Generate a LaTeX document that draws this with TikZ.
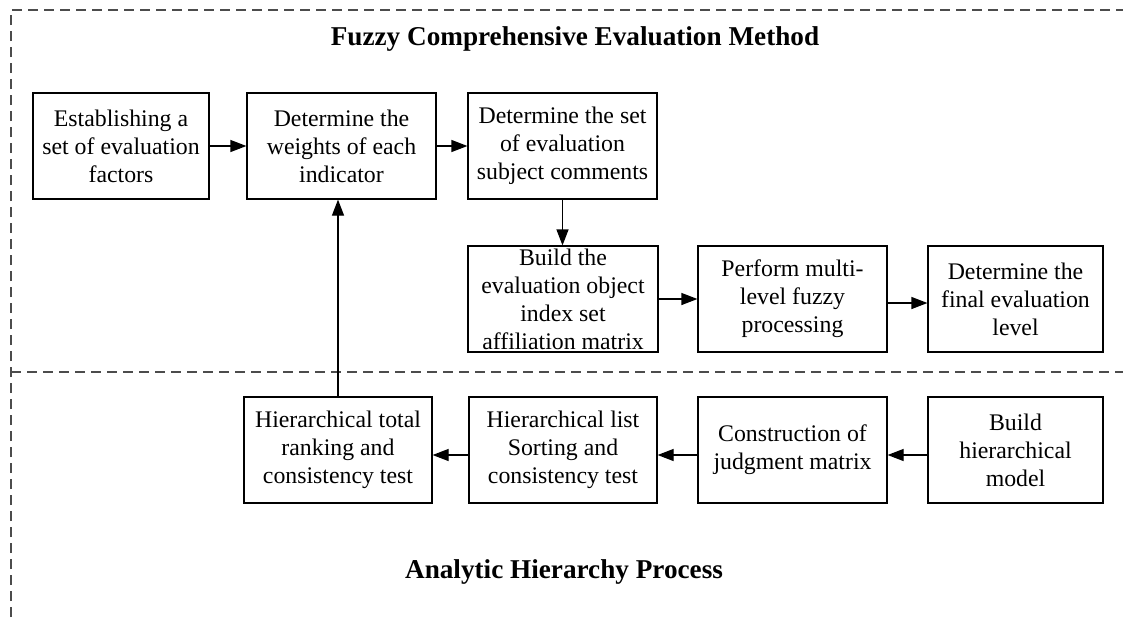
\documentclass[tikz,border=0pt]{standalone}
\usepackage{fontspec}
\setmainfont{Liberation Serif}
\usetikzlibrary{arrows.meta}
\tikzset{
  boxnode/.style={draw, line width=0.6pt, align=center, inner sep=0pt,
    minimum height=53pt, font=\fontsize{11.9}{14}\selectfont},
  frameline/.style={dashed, dash pattern=on 5pt off 3pt, line width=0.65pt, draw=black!70},
  flow/.style={line width=0.6pt, -{Triangle[length=8pt,width=6pt]}},
  titlenode/.style={font=\fontsize{13.6}{16}\selectfont\bfseries, inner sep=0pt}
}
\begin{document}
\begin{tikzpicture}[x=0.5pt,y=-0.5pt]
\useasboundingbox (0,0) rectangle (1123,617);
% frame
\coordinate (tl) at (11,10);
\coordinate (tr) at (1123,10);
\coordinate (bl) at (11,617);
\coordinate (ml) at (11,372);
\coordinate (mr) at (1123,372);
\draw[frameline] (bl) -- (tl) -- (tr);
\draw[frameline] (ml) -- (mr);
% titles
\node[titlenode] (t1) at (575,39) {Fuzzy Comprehensive Evaluation Method};
\node[titlenode] (t2) at (564,572) {Analytic Hierarchy Process};
% row 1
\node[boxnode, minimum width=88pt] (b1) at (121,146) {Establishing a\\ set of evaluation\\ factors};
\node[boxnode, minimum width=94.5pt] (b2) at (341.5,146) {Determine the\\ weights of each\\ indicator};
\node[boxnode, minimum width=94.5pt] (b3) at (562.5,146) {Determine the set\\ of evaluation\\ subject comments};
% row 2
\node[boxnode, minimum width=95pt] (b4) at (563,299) {Build the\\ evaluation object\\ index set\\ affiliation matrix};
\node[boxnode, minimum width=94.5pt] (b5) at (792.5,299) {Perform multi-\\ level fuzzy\\ processing};
\node[boxnode, minimum width=87.5pt] (b6) at (1015.5,299) {Determine the\\ final evaluation\\ level};
% row 3
\node[boxnode, minimum width=94pt] (h1) at (338,450) {Hierarchical total\\ ranking and\\ consistency test};
\node[boxnode, minimum width=94pt] (h2) at (563,450) {Hierarchical list\\ Sorting and\\ consistency test};
\node[boxnode, minimum width=94.5pt] (h3) at (792.5,450) {Construction of\\ judgment matrix};
\node[boxnode, minimum width=87.5pt] (h4) at (1015.5,450) {Build\\ hierarchical\\ model};
% connectors
\draw[flow] (b1.east) -- (b2.west);
\draw[flow] (b2.east) -- (b3.west);
\draw[flow] (b3.south) -- (b4.north -| b3.south);
\draw[flow] (b4.east) -- (b5.west);
\draw[flow] ([yshift=-2pt]b5.east) -- ([yshift=-2pt]b6.west);
\draw[flow] ([yshift=-2.5pt]h4.west) -- ([yshift=-2.5pt]h3.east);
\draw[flow] ([yshift=-2.5pt]h3.west) -- ([yshift=-2.5pt]h2.east);
\draw[flow] ([yshift=-2.5pt]h2.west) -- ([yshift=-2.5pt]h1.east);
\draw[flow] (h1.north) -- (b2.south -| h1.north);
\end{tikzpicture}
\end{document}
